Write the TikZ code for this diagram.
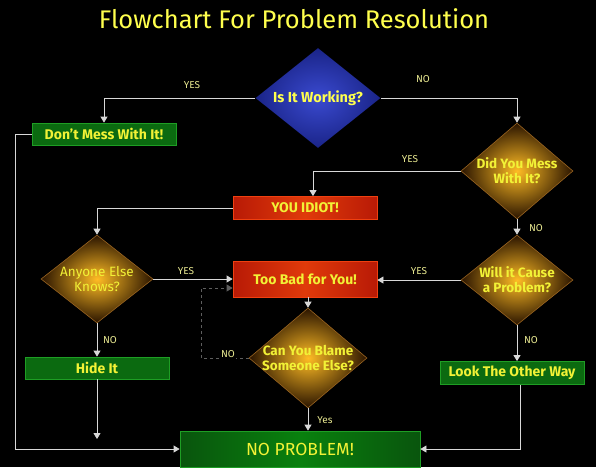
\documentclass[tikz,border=0pt]{standalone}
\usepackage{fontspec}
\setmainfont{Fira Sans}
\usetikzlibrary{shapes.geometric,arrows.meta}

\definecolor{headline}{HTML}{FFFF4D}
\definecolor{boxtext}{HTML}{F2F236}
\definecolor{tagtext}{HTML}{E8E890}
\definecolor{wire}{HTML}{D8D8D8}
\definecolor{dimwire}{HTML}{5E5E5E}
\definecolor{boxgreen}{HTML}{0B6A10}
\definecolor{greenedge}{HTML}{1E9E24}
\definecolor{redside}{HTML}{B81A06}
\definecolor{redmid}{HTML}{E03A0A}
\definecolor{rededge}{HTML}{F04010}
\definecolor{bluelight}{HTML}{3A4AD0}
\definecolor{bluedark}{HTML}{1A2488}
\definecolor{glow}{HTML}{FFBC24}
\definecolor{glowout}{HTML}{2A1400}
\definecolor{goldedge}{HTML}{9A6420}

\begin{document}
\begin{tikzpicture}[x=1pt,y=-1pt,
		box/.style={rectangle,minimum width=144pt,minimum height=#1,inner sep=0pt,text=boxtext,font=\bfseries\fontsize{14}{16}\selectfont},
		box/.default=22pt,
		greenbox/.style={box=#1,fill=boxgreen,draw=greenedge,line width=0.8pt},
		greenbox/.default=22pt,
		redbox/.style={box=#1,left color=redside,right color=redside,middle color=redmid,draw=rededge,line width=0.8pt},
		redbox/.default=23pt,
		decision/.style={diamond,aspect=1.2,inner sep=-6pt,align=center,text=boxtext,font=\bfseries\fontsize{13.5}{15}\selectfont,draw=goldedge,line width=0.6pt,inner color=glow,outer color=glowout},
		flow/.style={draw=wire,line width=0.8pt,-{Triangle[width=7pt,length=6pt]}},
		tag/.style={text=tagtext,inner sep=1pt,font=\fontsize{10}{12}\selectfont}]
		
		%hintergrund
		\fill[black] (0,0) rectangle (596,467);
		\useasboundingbox (0,0) rectangle (596,467);
		
		\node[text=headline,font=\fontsize{25.5}{28}\selectfont] (title) at (294,19) {Flowchart For Problem Resolution};
		
		%rauten
		\node[decision,inner color=bluelight,outer color=bluedark,draw=none,text=headline,font=\bfseries\fontsize{14.5}{16}\selectfont,minimum width=125pt,minimum height=100pt] (work) at (318,98) {Is It Working?};
		
		\foreach \name/\x/\y/\w/\h/\txt in {mess/517/171/112/96/{Did You Mess\\With It?}, cause/517/280/112/90/{Will it Cause\\a Problem?},
			anyone/97/279/112/88/{\mdseries Anyone Else\\\mdseries Knows?}, blame/308/358/118/100/{Can You Blame\\Someone Else?}}
		\node[decision,minimum width=\w pt,minimum height=\h pt] (\name) at (\x,\y) {\txt};
		
		%kaesten
		\node[greenbox] (dont) at (104,134) {Don't Mess With It!};
		\node[greenbox] (hide) at (97,368) {Hide It};
		\node[greenbox=23pt] (look) at (512,373) {Look The Other Way};
		\node[redbox] (idiot) at (305,208) {YOU IDIOT!};
		\node[redbox=36pt] (toobad) at (305,279) {Too Bad for You!};
		\node[greenbox=36pt,minimum width=240pt,left color=boxgreen!80!black,right color=boxgreen!80!black,middle color=boxgreen!85!green,font=\fontsize{17.5}{20}\selectfont] (noprob) at (300,449) {NO PROBLEM!};
		
		%knicke
		\coordinate (leftbend) at (15,134);
		\coordinate (nobend) at (201,358);
		\coordinate (hideend) at (97,439);
		
		%verbindungen
		\draw[flow] (work.west) -| (dont.north);
		\draw[flow] (work.east) -| (mess.north);
		\draw[flow] (mess.west) -| ([xshift=8pt]idiot.north);
		\draw[flow] (mess.south) -- (cause.north);
		\draw[flow] (idiot.west) -| (anyone.north);
		\draw[flow] (anyone.east) -- (toobad.west |- anyone.east);
		\draw[flow] (cause.west) -- (toobad.east |- cause.west);
		\draw[flow] (anyone.south) -- (hide.north);
		\draw[flow] (cause.south) -- (cause.south |- look.north);
		\draw[flow] (blame.north |- toobad.south) -- (blame.north);
		\draw[flow] (blame.south) -- (blame.south |- noprob.north);
		\draw[flow,dashed,draw=dimwire] (blame.west) -- (nobend) |- ([yshift=-9pt]toobad.west);
		\draw[flow] (dont.west) -- (leftbend) |- (noprob.west);
		\draw[flow] (hide.south) -- (hideend);
		\draw[flow] ([xshift=8pt]look.south) |- (noprob.east);
		
		%beschriftung
		\foreach \name/\x/\y/\txt in {yes1/192/85/YES, no1/423/79/NO, yes2/410/159/YES, no2/536/228/NO, yes3/186/271/YES,
			no3/110/340/NO, yes4/419/271/YES, no4/531/340/NO, yes5/325/420/Yes}
		\node[tag] (\name) at (\x,\y) {\txt};
		\node[tag,fill=black] (no5) at (228,354) {NO};
		
	\end{tikzpicture}
\end{document}
